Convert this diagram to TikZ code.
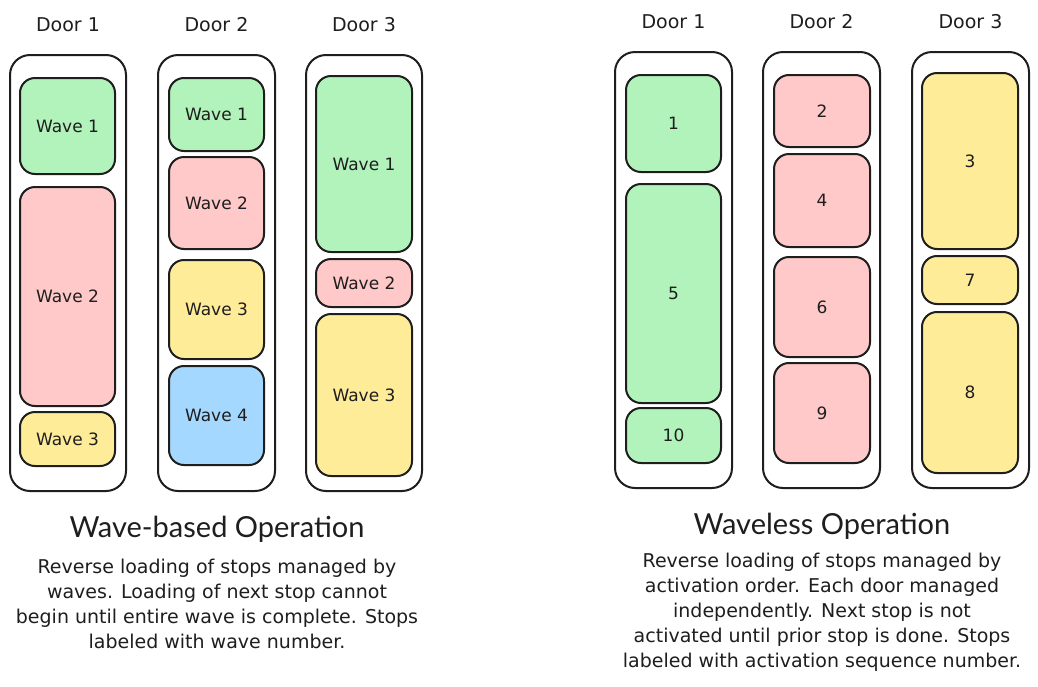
\documentclass[tikz,border=0pt]{standalone}
\usepackage{fontspec}
\setmainfont{DejaVu Sans}
\newfontfamily\titlefont{Lato}
\usetikzlibrary{positioning}

\definecolor{ink}{HTML}{1E1E1E}
\definecolor{wgreen}{HTML}{B2F2BB}
\definecolor{wred}{HTML}{FFC9C9}
\definecolor{wyellow}{HTML}{FFEC99}
\definecolor{wblue}{HTML}{A5D8FF}

\begin{document}
\begin{tikzpicture}[
    x=1pt,y=-1pt,
    door/.style={draw=ink,line width=2pt,rounded corners=20pt,inner sep=0pt,fill=white},
    stop/.style={draw=ink,line width=2pt,rounded corners=15pt,inner sep=0pt,
      minimum width=95pt,text=ink,font=\fontsize{17}{17}\selectfont},
    green/.style={stop,fill=wgreen},
    red/.style={stop,fill=wred},
    yellow/.style={stop,fill=wyellow},
    blue/.style={stop,fill=wblue},
    head/.style={text=ink,font=\fontsize{19}{19}\selectfont},
    title/.style={text=ink,font=\titlefont\fontsize{29}{29}\selectfont},
    note/.style={text=ink,align=center,font=\fontsize{19}{25}\selectfont}]
  \useasboundingbox[fill=white] (0,0) rectangle (1038,686);

  % wave-based side
  \node[head] (lh1) at (68,25) {Door 1};
  \node[head] (lh2) at (216.5,25) {Door 2};
  \node[head] (lh3) at (364,25) {Door 3};
  \node[door,minimum width=116pt,minimum height=436pt] (ld1) at (68,273) {};
  \node[door,minimum width=117pt,minimum height=436pt] (ld2) at (216.5,273) {};
  \node[door,minimum width=116pt,minimum height=436pt] (ld3) at (364,273) {};

  \node[green,minimum height=96pt] (la1) at (67.5,126) {Wave 1};
  \node[red,minimum height=219pt] (la2) at (67.5,296.5) {Wave 2};
  \node[yellow,minimum height=54pt] (la3) at (67.5,439) {Wave 3};

  \node[green,minimum height=73pt] (lb1) at (216.5,114.5) {Wave 1};
  \node[red,minimum height=92pt] (lb2) at (216.5,203) {Wave 2};
  \node[yellow,minimum height=99pt] (lb3) at (216.5,309.5) {Wave 3};
  \node[blue,minimum height=99pt] (lb4) at (216.5,415.5) {Wave 4};

  \node[green,minimum width=96pt,minimum height=176pt] (lc1) at (364,164) {Wave 1};
  \node[red,minimum width=96pt,minimum height=48pt] (lc2) at (364,283) {Wave 2};
  \node[yellow,minimum width=96pt,minimum height=162pt] (lc3) at (364,395) {Wave 3};

  \node[title] (ltitle) at (217,529) {Wave-based Operation};
  \node[note] (lnote) at (217,604) {Reverse loading of stops managed by\\
    waves. Loading of next stop cannot\\
    begin until entire wave is complete. Stops\\
    labeled with wave number.};

  % waveless side
  \node[head] (rh1) at (673.5,22) {Door 1};
  \node[head] (rh2) at (821.5,22) {Door 2};
  \node[head] (rh3) at (970.5,22) {Door 3};
  \node[door,minimum width=117pt,minimum height=436pt] (rd1) at (673.5,270) {};
  \node[door,minimum width=117pt,minimum height=436pt] (rd2) at (821.5,270) {};
  \node[door,minimum width=117pt,minimum height=436pt] (rd3) at (970.5,270) {};

  \node[green,minimum height=97pt] (ra1) at (673.5,123.5) {1};
  \node[green,minimum height=219pt] (ra5) at (673.5,293.5) {5};
  \node[green,minimum height=55pt] (ra10) at (673.5,435.5) {10};

  \node[red,minimum width=96pt,minimum height=72pt] (rb2) at (822,111) {2};
  \node[red,minimum width=96pt,minimum height=93pt] (rb4) at (822,200.5) {4};
  \node[red,minimum width=96pt,minimum height=100pt] (rb6) at (822,307) {6};
  \node[red,minimum width=96pt,minimum height=100pt] (rb9) at (822,413) {9};

  \node[yellow,minimum width=96pt,minimum height=176pt] (rc3) at (970,161) {3};
  \node[yellow,minimum width=96pt,minimum height=48pt] (rc7) at (970,280) {7};
  \node[yellow,minimum width=96pt,minimum height=161pt] (rc8) at (970,392.5) {8};

  \node[title] (rtitle) at (822,526) {Waveless Operation};
  \node[note] (rnote) at (822,612) {Reverse loading of stops managed by\\
    activation order. Each door managed\\
    independently. Next stop is not\\
    activated until prior stop is done. Stops\\
    labeled with activation sequence number.};
\end{tikzpicture}
\end{document}
